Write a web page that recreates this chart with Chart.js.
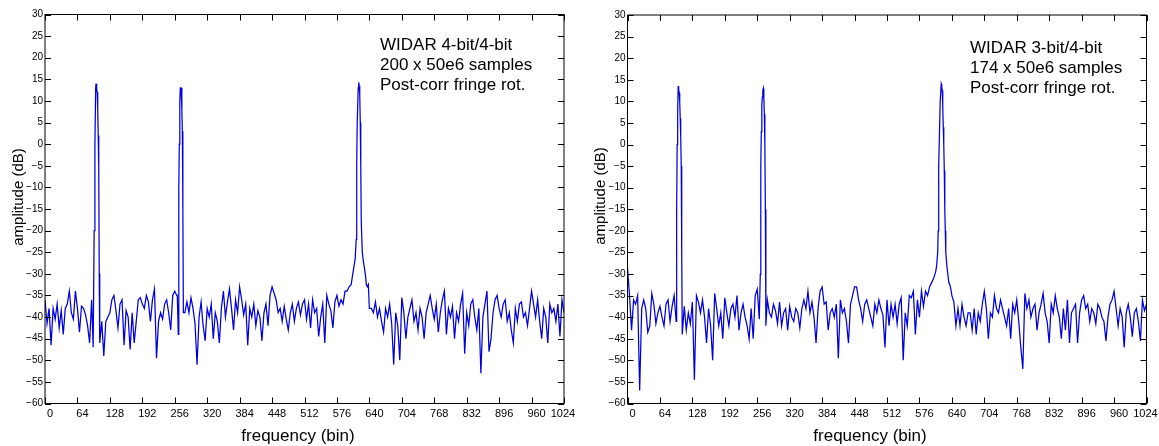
<!DOCTYPE html>
<html>
<head>
<meta charset="utf-8">
<script src="https://cdn.jsdelivr.net/npm/chart.js@4.4.1/dist/chart.umd.min.js"></script>
<style>
html, body { margin: 0; padding: 0; background: #fff; overflow: hidden; }
.panel { position: absolute; top: 0; }
</style>
</head>
<body>
<div class="panel" style="left:0px"><canvas id="left-chart" width="620" height="446"></canvas></div>
<div class="panel" style="left:583px"><canvas id="right-chart" width="620" height="446"></canvas></div>
<script>
// noise floor, one value every 4 bins (0..1024); null where a carrier trace takes over
var bin_step = 4;

var left_noise_db = [
	-36, -41.5, -38, -46.5, -38, -40.5, -37, -42.5, -38.5, -44, -38, -37, -34, -39, -40.5, -34,
	-38, -43.5, -37.5, -38, -39.5, -42, -46, -36, null, null, null, null, -41, -49, -41, -40,
	-39, -36, -35, -38.5, -42.5, -37, -36, -46.5, -38.5, -40, -47.5, -39, -46, -41, -36, -35.5,
	-37, -38, -35, -36.5, -41, -36, -33.5, -49.5, -41, -39, -40.5, -37, -36, -39, -43, -35,
	-34, -35, null, null, null, -39, -36.5, -39, -35.5, -38, -41.5, -51, -40, -36.5, -42, -45.5,
	-38, -40, -37, -45, -39, -41, -46, -38, -34, -40, -36.5, -33.5, -38, -43, -36, -39,
	-33, -36, -39.5, -37, -46.5, -38, -40, -37, -42, -38.5, -40, -45.5, -39, -37, -42, -35,
	-33, -34.5, -36, -39, -38, -41, -37.5, -40.5, -43, -39, -37, -41, -38, -36.5, -39.5, -37,
	-36, -40.5, -37, -42.5, -36, -39, -38, -44.5, -40, -37, -46, -35, -37, -38.5, -42.5, -36.5,
	-35, -37.5, -36, -37, -34, null, null, null, null, null, null, null, null, null, null, null,
	null, -38, -39, -36.5, -40, -38, -41, -43.5, -38, -40, -37, -41.5, -51, -39, -42, -50,
	-35.5, -39, -45, -40, -38, -36, -41, -39, -43, -38, -40, -45, -39, -37, -35, -38,
	-40.5, -37, -43.5, -39, -36, -34, -44, -38, -40, -37.5, -45, -39, -41, -37, -34.5, -48.5,
	-39, -42, -37, -36, -40, -43, -38, -53, -40, -37, -34, -48, -45, -39, -36, -35,
	-38, -40, -37, -36, -41, -39, -43, -46, -38, -41, -37, -36.5, -40, -39, -42, -38,
	-34, -37, -40, -36, -41, -45, -38, -40, -46, -37, -39, -38, -41, -37, -44.5, -36, -39
];
var left_carrier_bins = [
	95, 97, 98.5, 100, 100.7, 102, 103, 104, 105, 106, 107, 108,
	261, 263, 264, 265, 266, 267, 268.5, 270, 271, 272, 273,
	596, 600, 604, 606, 608, 610, 612, 614, 615, 616, 618, 619, 620, 621, 622, 623, 624, 626, 628, 630, 632, 634, 636, 638, 640
];
var left_carrier_db = [
	-47, -20, 0, 13, 14, 12.5, 12, 8, 2, -5, -30, -46,
	-35, -44, -10, 0, 10, 13, 13, 8, 3, -15, -39,
	-34, -33, -32.5, -31, -29.5, -28, -26.5, -22, -5, 5, 13, 14.3, 13.5, 11.5, 5, -5, -18, -25, -27, -28.5, -30, -32.5, -33, -32.5, -38
];

var right_noise_db = [
	-28.5, -35, -43, -36, -37, -35, -57, -38, -36, -38, -43.5, -42, -34.5, -37, -41.5, -39,
	-37.5, -40, -42, -37, -36, -41, -37.5, -35, null, null, null, null, -37.5, -43, -39, -41.5,
	-36.5, -54.5, -35, -36.5, -39, -36, -40, -46, -38, -42, -50, -34.5, -38, -42, -39, -45,
	-35.5, -39, -42, -38, -37, -40, -35, -43, -39, -37, -40, -42, -45, -38, -45, -35,
	-33.5, null, null, null, null, -36, -39, -40, -37, -38.5, -41.5, -36.5, -42, -39, -38, -43,
	-37.5, -40, -41, -38, -39, -42.5, -38, -36, -38, -34, -39, -36.5, -40, -46, -38, -34,
	-33, -37, -36.5, -43, -39, -38, -40, -37, -49.5, -36, -39, -38, -41, -46, -37, -35,
	-33, -33, -36, -38, -41, -37, -36, -38, -40, -42, -37, -39, -36, -38, -39.5, -47,
	-36, -42, -37, -40, -37, -41.5, -37, -35.5, -50, -39, -42, -35, -35.5, -34, -44, -36,
	-40, -34, -37.5, -34, -35, null, null, null, null, null, null, null, null, null, null, null,
	null, -36.5, -42, -38, -42, -37, -40, -42, -39, -39, -43, -38, -44, -39, -41, -37,
	-34, -38, -45, -39, -40, -35, -38, -39, -36, -38, -40, -42, -38, -45, -37, -39,
	-36, -41, -47, -52, -34.5, -38, -36, -40, -38, -37, -43, -39, -37, -34.5, -39, -41,
	-46, -37, -39, -35, -38, -40, -45, -38, -43, -36, -46, -39, -38, -37, -46, -39,
	-36, -35, -38, -37, -41, -38, -39, -41.5, -37, -38, -40, -41, -45.5, -40, -37, -36,
	-34, -38, -42, -38, -40, -47, -39, -37, -40, -44.5, -39, -38, -41, -45.5, -36, -38.5, -37
];
var right_carrier_bins = [
	96, 97, 98, 99, 100, 101, 102, 103, 104, 105, 106, 107, 108,
	260, 262, 263, 264, 265, 266, 267, 268, 269, 270, 271, 272, 273,
	596, 600, 604, 608, 610, 612, 613, 614, 615, 617, 619, 620, 621, 622, 623, 624, 625, 626, 627, 628, 630, 632, 634, 636, 638, 640
];
var right_carrier_db = [
	-41, -15, 0, 8, 13.5, 12.8, 12, 10, 6, 2, -5, -25, -44,
	-40.5, -30, -5, 3, 9, 11, 12.5, 13, 11, 7, 0, -15, -42,
	-33, -32, -31, -29.5, -28, -25, -20, -5, 0, 10, 14, 13.5, 12.5, 9, 4, 0, -6, -15, -20, -25, -28, -30, -32, -32.5, -33.5, -35
];

var left_note = ['WIDAR 4-bit/4-bit', '200 x 50e6 samples', 'Post-corr fringe rot.'];
var right_note = ['WIDAR 3-bit/4-bit', '174 x 50e6 samples', 'Post-corr fringe rot.'];

var font_family = 'Arial, "Liberation Sans", sans-serif';

function build_points(noise, carrier_bins, carrier_db) {
	var points = [];
	for (var i = 0; i < noise.length; i++) {
		if (noise[i] !== null) points.push({x: i * bin_step, y: noise[i]});
	}
	for (var j = 0; j < carrier_bins.length; j++) {
		points.push({x: carrier_bins[j], y: carrier_db[j]});
	}
	points.sort(function(a, b) { return a.x - b.x; });
	return points;
}

// matlab-like box: ticks pointing inward on all four sides, titles and the note
var matlab_frame = {
	id: 'matlabFrame',
	afterDraw: function(chart, args, opts) {
		var ctx = chart.ctx;
		var a = chart.chartArea;
		var sx = chart.scales.x, sy = chart.scales.y;
		var tl = 6;
		ctx.save();
		ctx.strokeStyle = '#000';
		ctx.lineWidth = 1;
		ctx.strokeRect(a.left, a.top, a.right - a.left, a.bottom - a.top);
		ctx.beginPath();
		sx.ticks.forEach(function(t) {
			var px = Math.round(sx.getPixelForValue(t.value)) + 0.5;
			ctx.moveTo(px, a.bottom); ctx.lineTo(px, a.bottom - tl);
			ctx.moveTo(px, a.top); ctx.lineTo(px, a.top + tl);
		});
		sy.ticks.forEach(function(t) {
			var py = Math.round(sy.getPixelForValue(t.value)) + 0.5;
			ctx.moveTo(a.left, py); ctx.lineTo(a.left + tl, py);
			ctx.moveTo(a.right, py); ctx.lineTo(a.right - tl, py);
		});
		ctx.stroke();

		ctx.fillStyle = '#000';
		ctx.font = '17px ' + font_family;
		ctx.textAlign = 'left';
		ctx.textBaseline = 'alphabetic';
		opts.note.forEach(function(line, i) {
			ctx.fillText(line, a.left + opts.noteX, opts.noteY + i * 20);
		});

		ctx.textAlign = 'center';
		ctx.textBaseline = 'middle';
		ctx.fillText('frequency (bin)', a.left + opts.xTitleX, 436);

		ctx.font = '15px ' + font_family;
		ctx.translate(a.left - 26.5, opts.yTitleY);
		ctx.rotate(-Math.PI / 2);
		ctx.fillText('amplitude (dB)', 0, 0);
		ctx.restore();
	}
};

function draw_panel(canvas_id, points, note, frame, plot_left, top_pad) {
	return new Chart(document.getElementById(canvas_id), {
		type: 'line',
		data: {
			datasets: [{
				data: points,
				borderColor: '#0000dd',
				borderWidth: 1.25,
				pointRadius: 0,
				tension: 0,
				fill: false
			}]
		},
		options: {
			responsive: false,
			animation: false,
			events: [],
			layout: { padding: { left: 0, top: top_pad, right: 620 - plot_left - 519, bottom: 0 } },
			plugins: {
				legend: { display: false },
				tooltip: { enabled: false },
				matlabFrame: {
					note: note,
					noteX: frame.noteX,
					noteY: frame.noteY,
					xTitleX: frame.xTitleX,
					yTitleY: frame.yTitleY
				}
			},
			scales: {
				x: {
					type: 'linear',
					min: 0,
					max: 1024,
					afterFit: function(scale) { scale.height = 446 - 403.5; },
					grid: { display: false, drawTicks: false },
					border: { display: false },
					ticks: {
						stepSize: 64,
						autoSkip: false,
						maxRotation: 0,
						padding: 4,
						labelOffset: 5,
						color: '#000',
						font: { family: font_family, size: 11 },
						callback: function(v) { return v === 1024 ? '1024    ' : '' + v; }
					}
				},
				y: {
					min: -60,
					max: 30,
					afterFit: function(scale) { scale.width = plot_left; },
					grid: { display: false, drawTicks: false },
					border: { display: false },
					ticks: {
						stepSize: 5,
						padding: 2,
						color: '#000',
						font: { family: font_family, size: 10 },
						callback: function(v) { return v < 0 ? '\u2212' + Math.abs(v) : '' + v; }
					}
				}
			}
		},
		plugins: [matlab_frame]
	});
}

draw_panel('left-chart', build_points(left_noise_db, left_carrier_bins, left_carrier_db), left_note,
	{noteX: 335, noteY: 50, xTitleX: 253, yTitleY: 197}, 45, 14.5);
draw_panel('right-chart', build_points(right_noise_db, right_carrier_bins, right_carrier_db), right_note,
	{noteX: 342.5, noteY: 53, xTitleX: 242.5, yTitleY: 196}, 44.5, 15);
</script>
</body>
</html>
